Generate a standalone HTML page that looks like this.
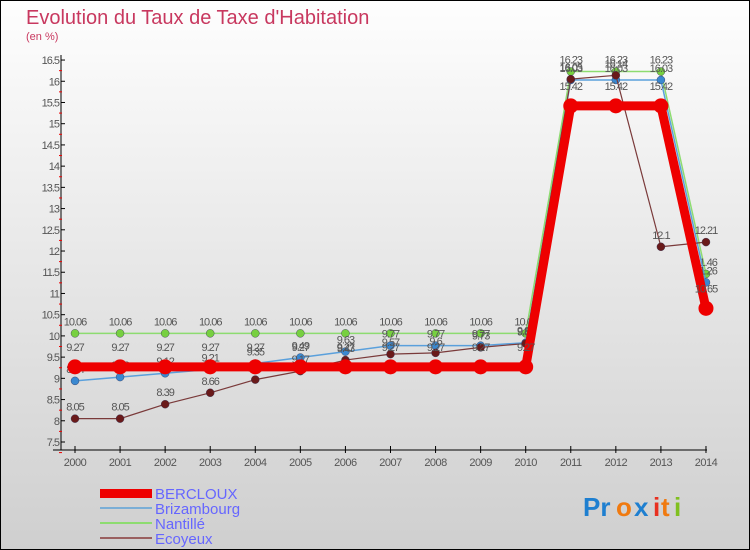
<!DOCTYPE html>
<html><head><meta charset="utf-8"><style>
body{margin:0;width:750px;height:550px;overflow:hidden}
svg{display:block;font-family:"Liberation Sans",sans-serif}
</style></head><body>
<svg id="c" width="750" height="550" viewBox="0 0 750 550">
<defs><linearGradient id="bg" x1="0" y1="0" x2="0" y2="1"><stop offset="0" stop-color="#fefefe"/><stop offset="1" stop-color="#cfcfcf"/></linearGradient></defs>
<rect x="0.5" y="0.5" width="749" height="549" fill="url(#bg)" stroke="#000"/>
<text x="26" y="24" font-size="20" fill="#c8385f">Evolution du Taux de Taxe d'Habitation</text>
<text x="26" y="40" font-size="11" fill="#c8385f">(en %)</text>
<g id="axes"></g><g id="series"></g>
<g>
<rect x="100" y="489" width="52" height="9" fill="#e00"/>
<text x="155" y="499" font-size="15" fill="#6666ff">BERCLOUX</text>
<rect x="100" y="507" width="52" height="2" fill="#7aaed6"/>
<text x="155" y="514" font-size="15" fill="#6666ff">Brizambourg</text>
<rect x="100" y="522" width="52" height="2" fill="#8ddc70"/>
<text x="155" y="529" font-size="15" fill="#6666ff">Nantillé</text>
<rect x="100" y="537" width="52" height="2" fill="#9a6060"/>
<text x="155" y="544" font-size="15" fill="#6666ff">Ecoyeux</text>
</g>
<g font-size="26" font-weight="bold">
<text x="583" y="516" fill="#1e7fd0">Pr</text><text x="616" y="516" fill="#f07a10">o</text><text x="634" y="516" fill="#1e7fd0">x</text><text x="653" y="516" fill="#e83020">i</text><text x="661" y="516" fill="#f07a10">t</text><text x="674" y="516" fill="#80c020">i</text>
</g>
</svg>
<script>
const years=[2000,2001,2002,2003,2004,2005,2006,2007,2008,2009,2010,2011,2012,2013,2014];
const bercloux=[9.27,9.27,9.27,9.27,9.27,9.27,9.27,9.27,9.27,9.27,9.27,15.42,15.42,15.42,10.65];
const brizambourg=[8.94,9.03,9.12,9.21,9.35,9.49,9.63,9.77,9.77,9.77,9.84,16.03,16.03,16.03,11.26];
const nantille=[10.06,10.06,10.06,10.06,10.06,10.06,10.06,10.06,10.06,10.06,10.06,16.23,16.23,16.23,11.46];
const ecoyeux=[8.05,8.05,8.39,8.66,8.97,9.17,9.43,9.57,9.6,9.73,9.82,16.05,16.14,12.1,12.21];
const yTicks=[7.5,8,8.5,9,9.5,10,10.5,11,11.5,12,12.5,13,13.5,14,14.5,15,15.5,16,16.5];
const NS="http://www.w3.org/2000/svg";
const xs=i=>75+i*45.07, ys=v=>442-(v-7.5)*42.44;
function el(t,a,p){const e=document.createElementNS(NS,t);for(const k in a)e.setAttribute(k,a[k]);p.appendChild(e);return e;}
const ax=document.getElementById('axes'), sg=document.getElementById('series');
const yl=el('line',{x1:61,y1:55,x2:61,y2:450,stroke:'#000'},ax);


const xl=el('line',{x1:53,y1:450,x2:707,y2:450,stroke:'#000'},ax);


yTicks.forEach(v=>{const y=ys(v);
 el('line',{x1:61,y1:y,x2:65,y2:y,stroke:'#000'},ax);
 el('line',{x1:59,y1:y+10.6,x2:62,y2:y+10.6,stroke:'#e00'},ax);
 const t=el('text',{x:59,y:y+4,'font-size':11,'text-anchor':'end',fill:'#555','letter-spacing':'-1'},ax);t.textContent=v;
 
 });
years.forEach((yr,i)=>{const x=xs(i);
 el('line',{x1:x,y1:446,x2:x,y2:453,stroke:'#000'},ax);
 const t=el('text',{x:x,y:466,'font-size':11,'text-anchor':'middle',fill:'#555','letter-spacing':'-0.5'},ax);t.textContent=yr;
 
 });
function series(name,vals,color,w,r,dot,lab){
 const g=el('g',{},sg);
 
 
 el('polyline',{points:vals.map((v,i)=>xs(i)+','+ys(v)).join(' '),fill:'none',stroke:color,'stroke-width':w,'stroke-linejoin':'round'},g);
 vals.forEach((v,i)=>{const c=el('circle',{cx:xs(i),cy:ys(v),r:r,fill:dot,stroke:w>3?'none':'#335','stroke-width':0.4},g);
  
  
  const t=el('text',{x:xs(i),y:ys(v)+lab,'font-size':11,'text-anchor':'middle',fill:'#555','letter-spacing':'-1'},g);t.textContent=v;});
}
series('nantille',nantille,'#8ddc70',1.5,4,'#77d040',-8);
series('brizambourg',brizambourg,'#5aa0dc',1.5,4,'#3a88d0',-8);
series('ecoyeux',ecoyeux,'#7a3a3a',1.2,4,'#6a1a1a',-8);
series('bercloux',bercloux,'#ee0000',9,7.5,'#ee0000',-16);
</script>
</body></html>
